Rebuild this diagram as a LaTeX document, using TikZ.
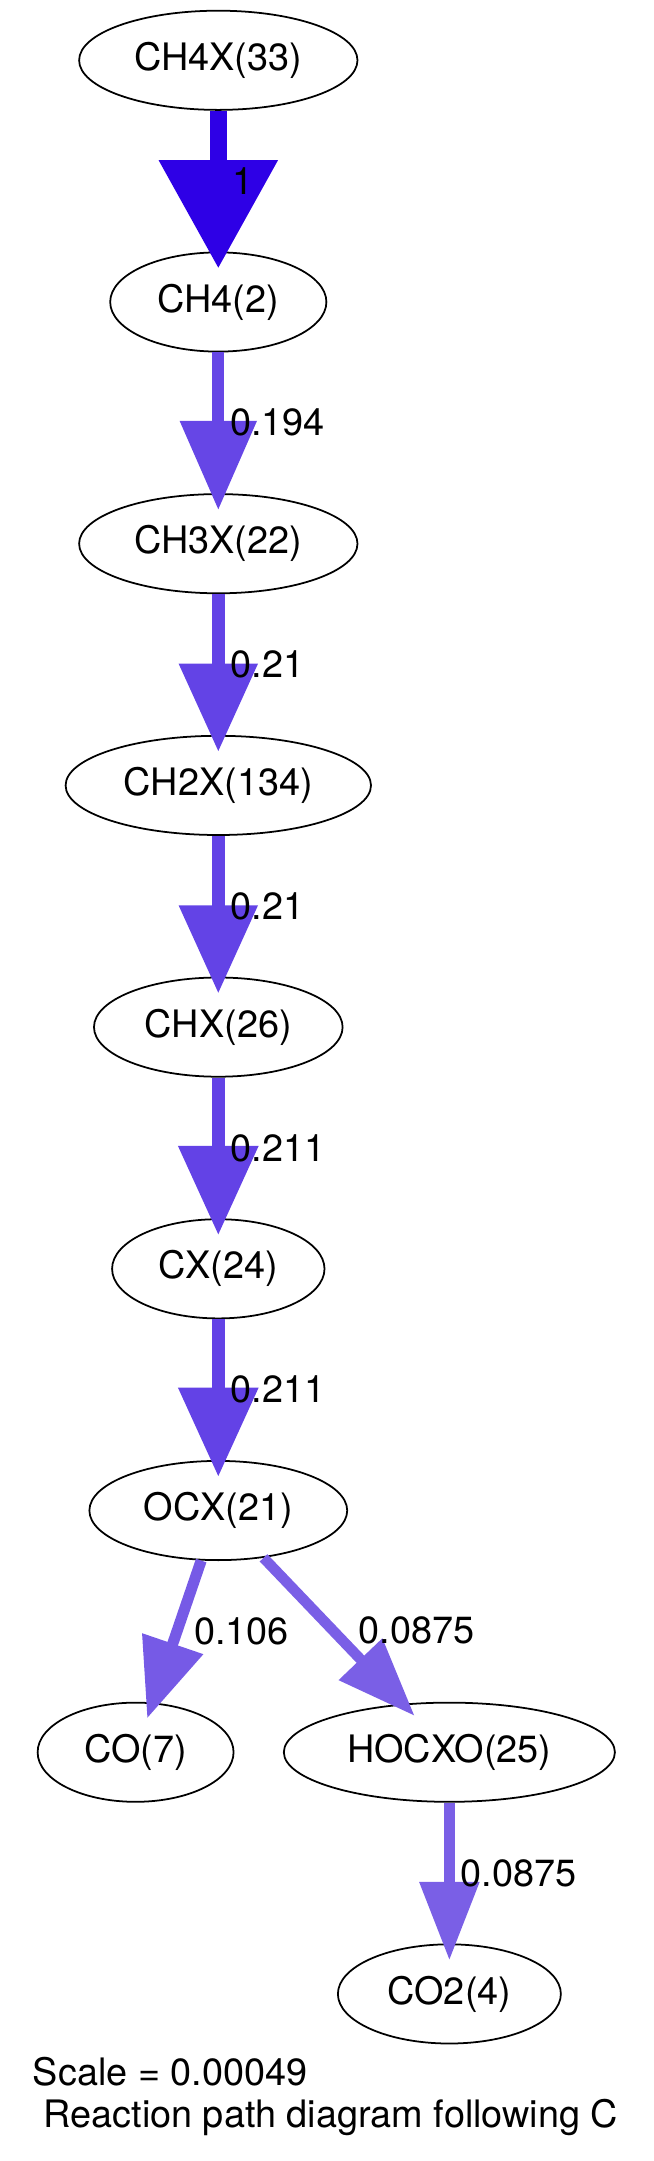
\documentclass[tikz,border=0pt]{standalone}
\usepackage{fontspec}
\setmainfont{TeX Gyre Heros}
\usetikzlibrary{arrows.meta,shapes.geometric,positioning}
\definecolor{fluxmax}{RGB}{46,0,230}
\definecolor{fluxa}{RGB}{102,70,230}
\definecolor{fluxb}{RGB}{99,67,230}
\definecolor{fluxc}{RGB}{99,66,230}
\definecolor{fluxd}{RGB}{118,90,230}
\definecolor{fluxe}{RGB}{122,95,230}
\tikzset
{
    species/.style   = {ellipse, draw=black, line width=0.65pt, inner sep=0pt, minimum height=36.7pt, font=\fontsize{14}{16}\selectfont},
    fluxlabel/.style = {anchor=west, inner sep=0pt, font=\fontsize{14}{16}\selectfont},
    flux/.style args = {#1/#2/#3/#4}{draw=#1, line width=#2, -{Triangle[length=#3, width=#4]}, shorten >=-6.2pt},
    caption/.style   = {anchor=base west, inner sep=0pt, font=\fontsize{14}{16}\selectfont}
}
\begin{document}
\begin{tikzpicture}
	 \newcommand\RANKDY{89.43pt}
	 \useasboundingbox (0,0) rectangle (241.61pt,-799.57pt);

   \node (ch4x)  [species, minimum width=103pt]   at (80.77pt, -22.31pt)                    {CH4X(33)};
   \node (ch4)   [species, minimum width=80pt]    at ([shift=({0pt, -\RANKDY})]ch4x)       {CH4(2)};
   \node (ch3x)  [species, minimum width=103pt]   at ([shift=({0pt, -\RANKDY})]ch4)        {CH3X(22)};
   \node (ch2x)  [species, minimum width=113pt]   at ([shift=({0pt, -\RANKDY})]ch3x)       {CH2X(134)};
   \node (chx)   [species, minimum width=92pt]    at ([shift=({0pt, -\RANKDY})]ch2x)       {CHX(26)};
   \node (cx)    [species, minimum width=78.6pt]  at ([shift=({0pt, -\RANKDY})]chx)        {CX(24)};
   \node (ocx)   [species, minimum width=95.4pt]  at ([shift=({0pt, -\RANKDY})]cx)         {OCX(21)};
   \node (co)    [species, minimum width=72.5pt]  at ([shift=({-30.6pt, -\RANKDY})]ocx)    {CO(7)};
   \node (hocxo) [species, minimum width=122.5pt] at ([shift=({85.5pt, -\RANKDY})]ocx)     {HOCXO(25)};
   \node (co2)   [species, minimum width=82.5pt]  at ([shift=({0pt, -\RANKDY})]hocxo)      {CO2(4)};

   \node (scale) [caption] at (12pt, -771.45pt)                           {Scale = 0.00049};
   \node (title) [caption] at ([shift=({3.9pt, -15.65pt})]scale.base west) {Reaction path diagram following C};

	 \path
		  (ch4x)  edge[flux=fluxmax/6.2pt/40pt/42.5pt]  node[fluxlabel, xshift=2.2pt] (f1) {1}      (ch4)
		  (ch4)   edge[flux=fluxa/4.45pt/33pt/27.4pt]   node[fluxlabel, xshift=2.2pt] (f2) {0.194}  (ch3x)
		  (ch3x)  edge[flux=fluxb/4.6pt/32.6pt/28.1pt]  node[fluxlabel, xshift=2.2pt] (f3) {0.21}   (ch2x)
		  (ch2x)  edge[flux=fluxb/4.6pt/32.6pt/28.1pt]  node[fluxlabel, xshift=2.2pt] (f4) {0.21}   (chx)
		  (chx)   edge[flux=fluxc/4.8pt/33pt/28.5pt]    node[fluxlabel, xshift=2.2pt] (f5) {0.211}  (cx)
		  (cx)    edge[flux=fluxc/4.8pt/33pt/28.5pt]    node[fluxlabel, xshift=2.2pt] (f6) {0.211}  (ocx)
		  (ocx)   edge[flux=fluxd/4.1pt/29.2pt/22.8pt]  node[fluxlabel, xshift=4.4pt] (f7) {0.106}  (co)
		  (ocx)   edge[flux=fluxe/3.9pt/29pt/21.3pt]    node[fluxlabel, xshift=7.4pt] (f8) {0.0875} (hocxo)
		  (hocxo) edge[flux=fluxe/3.9pt/29pt/21.3pt]    node[fluxlabel, xshift=2.2pt] (f9) {0.0875} (co2);
\end{tikzpicture}
\end{document}
